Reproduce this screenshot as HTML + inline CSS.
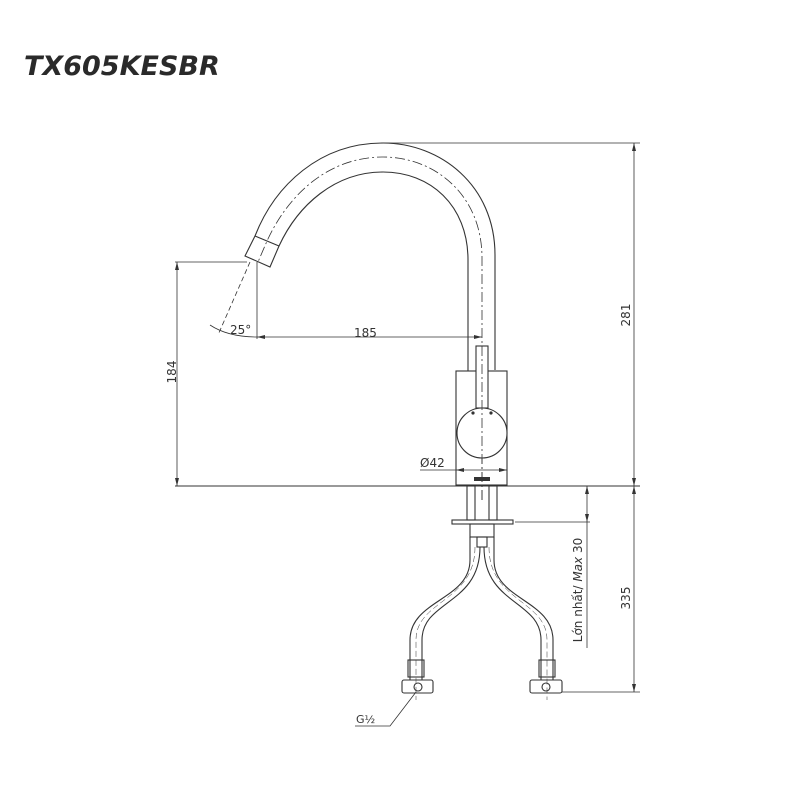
<!DOCTYPE html>
<html><head><meta charset="utf-8"><style>
html,body{margin:0;padding:0;background:#fff;width:800px;height:800px;overflow:hidden}
svg{display:block}
text{font-family:"DejaVu Sans","Liberation Sans",sans-serif;fill:#333}
</style></head><body>
<svg width="800" height="800" viewBox="0 0 800 800" xmlns="http://www.w3.org/2000/svg">
<text x="24" y="75" font-size="27" font-weight="bold" font-style="italic" style="fill:#2a2a2a">TX605KESBR</text>
<g fill="none" stroke="#333" stroke-width="1.1">
<!-- spout -->
<path d="M495,370 L495,255 C495,185 440,143 383,143 C320,143 275,185 255,236 L245,256 L270,267 L279,246 C298,205 335,172 383,172 C430,172 468,205 468,260 L468,371"/>
<path d="M255,236 L279,246"/>
<path d="M482,500 L482,258 C482,195 435,157 383,157 C328,157 288,195 267,241 L258,262" stroke-dasharray="10,3,2,3" stroke-width="0.8"/>
<!-- body -->
<rect x="456" y="371" width="51" height="114"/>
<rect x="476" y="346" width="12" height="62" fill="#fff"/>
<circle cx="482" cy="433" r="25" fill="#fff"/>
<line x1="482" y1="346" x2="482" y2="500" stroke-dasharray="10,3,2,3" stroke-width="0.8"/>
<!-- dims top -->
<line x1="383" y1="143" x2="640" y2="143" stroke-width="0.8"/>
<line x1="634" y1="143" x2="634" y2="486" stroke-width="0.8"/>
<line x1="175" y1="262" x2="247" y2="262" stroke-width="0.8"/>
<line x1="177" y1="262" x2="177" y2="486" stroke-width="0.8"/>
<line x1="175" y1="486" x2="640" y2="486" stroke-width="1"/>
<line x1="257" y1="262" x2="257" y2="339" stroke-width="0.8"/>
<line x1="257" y1="337" x2="482" y2="337" stroke-width="0.8"/>
<line x1="250" y1="262" x2="218" y2="335" stroke-width="0.8" stroke-dasharray="5,3"/>
<path d="M210,325 Q228,337 257,337" stroke-width="0.8"/>
<line x1="420" y1="470" x2="507" y2="470" stroke-width="0.8"/>
<!-- under -->
<rect x="467" y="486" width="8" height="34"/>
<rect x="489" y="486" width="8" height="34"/>
<rect x="452" y="520" width="61" height="4"/>
<rect x="470" y="524" width="24" height="13"/>
<rect x="477" y="537" width="10" height="10"/>
<path d="M470,537 L470,560 C470,600 410,600 410,640 L410,680 M480,547 C480,605 422,600 422,640 L422,680"/>
<path d="M494,537 L494,560 C494,600 553,600 553,640 L553,680 M484,547 C484,605 541,600 541,640 L541,680"/>
<path d="M475,547 C475,602 416,600 416,640 L416,700 M489,547 C489,602 547,600 547,640 L547,700" stroke-width="0.5" stroke-dasharray="6,3"/>
<rect x="408" y="660" width="16" height="17"/>
<rect x="539" y="660" width="16" height="17"/>
<rect x="402" y="680" width="31" height="13" rx="2"/>
<rect x="530" y="680" width="32" height="13" rx="2"/>
<circle cx="418" cy="687" r="4"/>
<circle cx="546" cy="687" r="4"/>
<!-- right dims -->
<line x1="515" y1="522" x2="590" y2="522" stroke-width="0.8"/>
<line x1="587" y1="486" x2="587" y2="648" stroke-width="0.8"/>
<line x1="562" y1="692" x2="640" y2="692" stroke-width="0.8"/>
<line x1="634" y1="486" x2="634" y2="692" stroke-width="0.8"/>
<path d="M416,692 L390,726 L355,726" stroke-width="0.8"/>
</g>
<g fill="#333">
<circle cx="473" cy="413" r="1.6"/><circle cx="491" cy="413" r="1.6"/>
<rect x="474" y="477" width="16" height="4"/>
<path d="M482,337 l-8,-2 v4z M257,337 l8,-2 v4z M507,470 l-8,-2 v4z M456,470 l8,-2 v4z M634,143 l-2,8 h4z M634,486 l-2,-8 h4z M634,486 l-2,8 h4z M634,692 l-2,-8 h4z M177,262 l-2,8 h4z M177,486 l-2,-8 h4z M587,486 l-2,8 h4z M587,522 l-2,-8 h4z"/>
</g>
<text x="354" y="337" font-size="12">185</text>
<text x="230" y="334" font-size="12">25°</text>
<text x="420" y="467" font-size="12">Ø42</text>
<text x="356" y="723" font-size="11">G½</text>
<text transform="translate(176,372) rotate(-90)" font-size="12" text-anchor="middle">184</text>
<text transform="translate(630,315) rotate(-90)" font-size="12" text-anchor="middle">281</text>
<text transform="translate(630,598) rotate(-90)" font-size="12" text-anchor="middle">335</text>
<text transform="translate(582,590) rotate(-90)" font-size="12" text-anchor="middle">Lớn nhất/ <tspan font-style="italic">Max</tspan> 30</text>
</svg>
</body></html>
